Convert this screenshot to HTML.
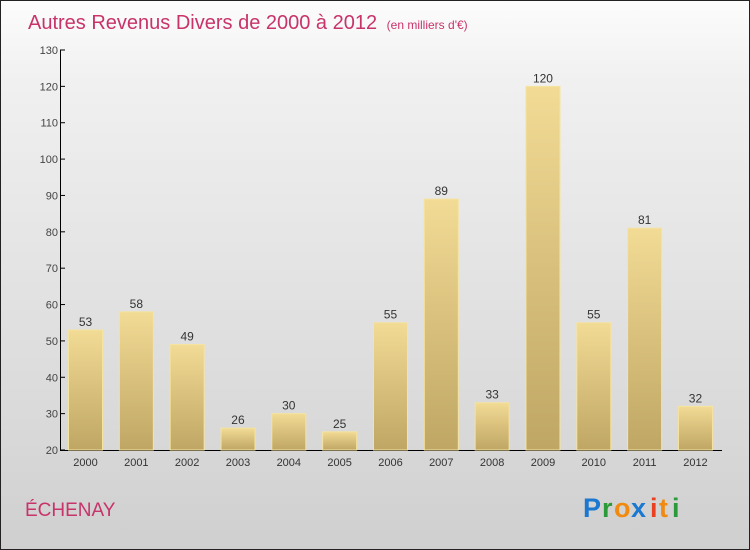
<!DOCTYPE html>
<html><head><meta charset="utf-8"><style>
body{margin:0}
#c{position:relative;width:748px;height:548px;border:1px solid #222;background:linear-gradient(#fcfcfc,#f0f0f0 15%,#d8d8d8 80%,#cfcfcf);font-family:"Liberation Sans",sans-serif;overflow:hidden}
</style></head><body>
<div id="c">
<svg width="748" height="548">
<defs><linearGradient id="g" x1="0" y1="0" x2="0" y2="1"><stop offset="0" stop-color="#f2db95"/><stop offset="1" stop-color="#bfa664"/></linearGradient></defs>
<text x="27" y="28" font-size="20" fill="#c8336a">Autres Revenus Divers de 2000 à 2012 <tspan font-size="12" dx="4">(en milliers d'€)</tspan></text>
<g id="axes"></g><g id="bars"></g>
<text x="24" y="515" font-size="19" fill="#c8336a">ÉCHENAY</text>
<g font-size="27" font-weight="bold" font-family="'Liberation Sans',sans-serif">
<text x="582" y="516" fill="#1a78d0">P</text><text x="601" y="516" fill="#2a9a3a">r</text><text x="613" y="516" fill="#f08a10">o</text><text x="630" y="516" fill="#1a78d0">x</text><text x="649" y="516" fill="#e84020">i</text><text x="658" y="516" fill="#f08a10">t</text><text x="671" y="516" fill="#2a9a3a">i</text></g>
</svg></div>
<script>
const years=["2000","2001","2002","2003","2004","2005","2006","2007","2008","2009","2010","2011","2012"];
const values=[53,58,49,26,30,25,55,89,33,120,55,81,32];
const ticks=[20,30,40,50,60,70,80,90,100,110,120,130];
const NS="http://www.w3.org/2000/svg";
const y=v=>449-(v-20)*400/110;
const x=i=>67+i*50.83;
function mk(t,a,p){const e=document.createElementNS(NS,t);for(const k in a)e.setAttribute(k,a[k]);p.appendChild(e);return e;}
const ax=document.getElementById('axes'),bg=document.getElementById('bars');
let l=mk('line',{x1:59.5,y1:49,x2:59.5,y2:449.5,stroke:'#000'},ax);


l=mk('line',{x1:59,y1:449.5,x2:721,y2:449.5,stroke:'#000'},ax);


ticks.forEach(t=>{mk('line',{x1:59,y1:y(t),x2:64,y2:y(t),stroke:'#000'},ax);
const tx=mk('text',{x:57,y:y(t)+4,'font-size':11,fill:'#444','text-anchor':'end'},ax);tx.textContent=t;

});
years.forEach((yr,i)=>{const v=values[i];
const r=mk('rect',{x:x(i)+0.5,y:y(v),width:34,height:449-y(v),fill:'url(#g)',stroke:'#f5e3a0','stroke-width':1},bg);


const vt=mk('text',{x:x(i)+17.5,y:y(v)-4,'font-size':12,fill:'#333','text-anchor':'middle'},bg);vt.textContent=v;


const xt=mk('text',{x:x(i)+17.5,y:465,'font-size':11,fill:'#333','text-anchor':'middle'},bg);xt.textContent=yr;

});
</script>
</body></html>
